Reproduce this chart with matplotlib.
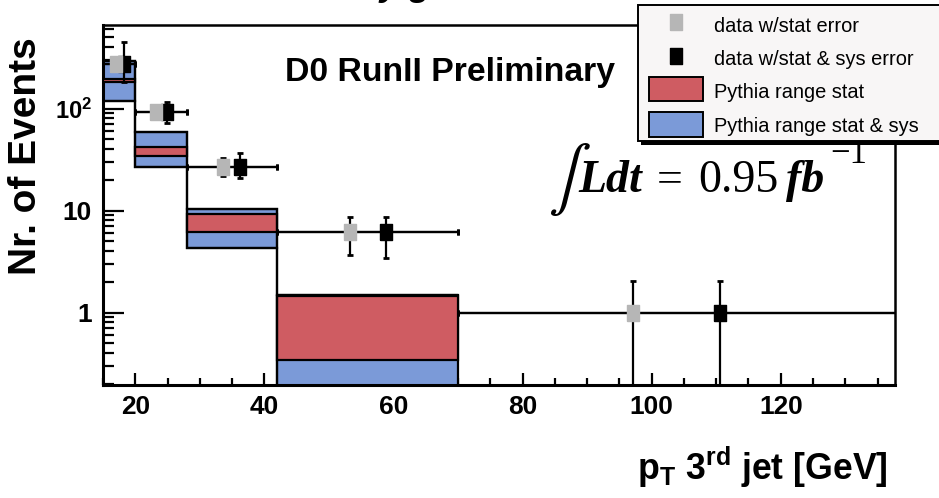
import matplotlib
matplotlib.use("Agg")
import numpy as np
import matplotlib.pyplot as plt
from matplotlib import font_manager as fm
from matplotlib.patches import Rectangle
from matplotlib.lines import Line2D
from matplotlib.ticker import MultipleLocator, FixedLocator, NullFormatter, LogLocator

# ---- data -------------------------------------------------------------
bin_edges = [15, 20, 28, 42, 70, 140]

# Pythia prediction ranges (first four bins)
sys_low = [120, 26.6, 4.3, 0.1]
sys_high = [292, 59.5, 10.4, 1.49]
stat_low = [182, 34.6, 6.2, 0.345]
stat_high = [196, 41.9, 9.2, 1.47]

# measured events per bin
data_y = [274, 93, 27, 6.1, 1.0]
x_stat = [17.0, 23.2, 33.6, 53.2, 97.1]
x_sys = [18.3, 24.9, 36.3, 58.8, 110.6]
stat_err_lo = [17, 10, 5.0, 2.4, 0.999]
stat_err_hi = [17, 10, 5.6, 2.6, 1.05]
sys_err_lo = [90, 21, 6.2, 2.7, 0.999]
sys_err_hi = [180, 24, 10.0, 2.6, 1.05]

x_ticks = [20, 40, 60, 80, 100, 120]
y_ticks = [1, 10, 100]
y_tick_labels = ["1", "10", r"$\mathbf{10^{2}}$"]

legend_labels = ["data w/stat error", "data w/stat & sys error",
                 "Pythia range stat", "Pythia range stat & sys"]

# ---- style ------------------------------------------------------------
RED = "#cf5c62"
BLUE = "#7b9ad8"
GRAY = "#b6b6b6"

installed = {f.name for f in fm.fontManager.ttflist}
NARROW = "Liberation Sans Narrow" if "Liberation Sans Narrow" in installed else "Liberation Sans"
k = 1.0 if NARROW == "Liberation Sans Narrow" else 0.9

plt.rcParams["font.family"] = [NARROW, "DejaVu Sans"]
plt.rcParams["mathtext.fontset"] = "custom"
plt.rcParams["mathtext.rm"] = NARROW
plt.rcParams["mathtext.bf"] = NARROW + ":bold"
plt.rcParams["mathtext.it"] = NARROW + ":italic"

W, H = 939, 498


def fx(px):
    return px / W


def fy(py):
    return 1 - py / H


fig = plt.figure(figsize=(W / 100, H / 100), dpi=100)
fig.patch.set_facecolor("white")
ax = fig.add_axes([fx(103), fy(385), (895 - 103) / W, (385 - 25) / H])

edges = np.array(bin_edges, dtype=float)
lefts = edges[:4]
widths = np.diff(edges)[:4]

# Pythia bands
ax.bar(lefts, np.subtract(sys_high, sys_low), bottom=sys_low, width=widths,
       align="edge", color=BLUE, edgecolor="black", linewidth=1.6, zorder=2)
ax.bar(lefts, np.subtract(stat_high, stat_low), bottom=stat_low, width=widths,
       align="edge", color=RED, edgecolor="black", linewidth=1.6, zorder=3)
ax.stairs(sys_high, edges[:5], baseline=None, color="black", linewidth=1.6, zorder=4)
ax.stairs(sys_low, edges[:5], baseline=None, color="black", linewidth=1.6, zorder=4)

# data points with horizontal bars spanning the bin
lo_edges = edges[:-1]
hi_edges = edges[1:]
sq = [(-0.78, -1), (0.78, -1), (0.78, 1), (-0.78, 1), (-0.78, -1)]

xs = np.array(x_sys)
ax.errorbar(xs, data_y, yerr=[sys_err_lo, sys_err_hi],
            xerr=[xs - lo_edges, hi_edges - xs], fmt="none", ecolor="black",
            elinewidth=1.6, capsize=2, capthick=2, zorder=5)
ax.plot(xs, data_y, linestyle="none", marker=sq, markersize=11.5,
        color="black", zorder=6)

xg = np.array(x_stat)
ax.errorbar(xg, data_y, yerr=[stat_err_lo, stat_err_hi],
            xerr=[xg - lo_edges, hi_edges - xg], fmt="none", ecolor="black",
            elinewidth=1.6, capsize=2, capthick=2, zorder=7)
ax.plot(xg, data_y, linestyle="none", marker=sq, markersize=11.5,
        color=GRAY, zorder=8)

# axes
ax.set_yscale("log")
ax.set_xlim(15, 137.7)
ax.set_ylim(0.195, 660)
ax.xaxis.set_major_locator(FixedLocator(x_ticks))
ax.xaxis.set_minor_locator(MultipleLocator(5))
ax.yaxis.set_major_locator(FixedLocator(y_ticks))
ax.set_yticklabels(y_tick_labels)
ax.yaxis.set_minor_locator(LogLocator(base=10, subs=np.arange(2, 10)))
ax.yaxis.set_minor_formatter(NullFormatter())

for s in ["top", "right"]:
    ax.spines[s].set_linewidth(1.8)
for s in ["left", "bottom"]:
    ax.spines[s].set_linewidth(2.2)

ax.tick_params(axis="x", which="major", direction="in", length=9, width=1.6,
               top=False, pad=7, labelsize=21 * k)
ax.tick_params(axis="x", which="minor", direction="in", length=5, width=1.6, top=False)
ax.tick_params(axis="y", which="major", direction="in", length=15, width=1.6,
               right=False, pad=8, labelsize=21 * k)
ax.tick_params(axis="y", which="minor", direction="in", length=8, width=1.6, right=False)
for lbl in ax.get_xticklabels() + ax.get_yticklabels():
    lbl.set_fontweight("bold")
ax.get_yticklabels()[2].set_fontsize(19 * k)

# axis titles
fig.text(fx(26.5), fy(156), "Nr. of Events", rotation=90, ha="center", va="center",
         fontsize=28, fontweight="bold", family=["Liberation Sans", "DejaVu Sans"])
fig.text(fx(888), fy(480), r"p$_\mathbf{T}$ 3$^\mathbf{rd}$ jet [GeV]", ha="right",
         va="baseline", fontsize=28.5 * k, fontweight="bold")

# clipped heading above the frame
fig.text(fx(380), fy(-5), "y g", ha="left", va="baseline", fontsize=26,
         fontweight="bold", fontstyle="italic", family=["Liberation Sans", "DejaVu Sans"])

fig.text(fx(285), fy(81.5), "D0 RunII Preliminary", ha="left", va="baseline",
         fontsize=27 * k, fontweight="bold")

# integrated luminosity
serif = ["Liberation Serif", "DejaVu Serif"]
fig.text(fx(549), fy(196), "\u222b", ha="left", va="baseline", fontsize=46,
         family=["STIXGeneral", "DejaVu Serif"])
fig.text(fx(578), fy(192), "Ldt", ha="left", va="baseline", fontsize=33,
         fontweight="bold", fontstyle="italic", family=serif)
fig.text(fx(657), fy(192), "=", ha="left", va="baseline", fontsize=33, family=serif)
fig.text(fx(698), fy(192), "0.95", ha="left", va="baseline", fontsize=33, family=serif)
fig.text(fx(786), fy(192), "fb", ha="left", va="baseline", fontsize=33,
         fontweight="bold", fontstyle="italic", family=serif)
fig.text(fx(830), fy(163), "\u22121", ha="left", va="baseline", fontsize=25, family=serif)

# legend box
fig.add_artist(Rectangle((fx(641), fy(144.5)), (990 - 641) / W, (144.5 - 8) / H,
                         transform=fig.transFigure, facecolor="black",
                         edgecolor="none", zorder=20))
fig.add_artist(Rectangle((fx(638), fy(141.5)), (990 - 638) / W, (141.5 - 5) / H,
                         transform=fig.transFigure, facecolor="#f8f6f6",
                         edgecolor="black", linewidth=1.4, zorder=21))
fig.add_artist(Line2D([fx(676)], [fy(22.5)], marker=sq, markersize=11, color=GRAY,
                      linestyle="none", transform=fig.transFigure, zorder=22))
fig.add_artist(Line2D([fx(676)], [fy(56.5)], marker=sq, markersize=11, color="black",
                      linestyle="none", transform=fig.transFigure, zorder=22))
fig.add_artist(Rectangle((fx(648.5), fy(101.5)), (702.5 - 648.5) / W, 24 / H,
                         transform=fig.transFigure, facecolor=RED,
                         edgecolor="black", linewidth=1.4, zorder=22))
fig.add_artist(Rectangle((fx(648.5), fy(136.5)), (702.5 - 648.5) / W, 24 / H,
                         transform=fig.transFigure, facecolor=BLUE,
                         edgecolor="black", linewidth=1.4, zorder=22))
for lab, base in zip(legend_labels, [32.5, 65, 98.5, 132]):
    fig.text(fx(714), fy(base), lab, ha="left", va="baseline", fontsize=16 * k,
             zorder=23)

fig.savefig("out.png", dpi=100, facecolor="white")
